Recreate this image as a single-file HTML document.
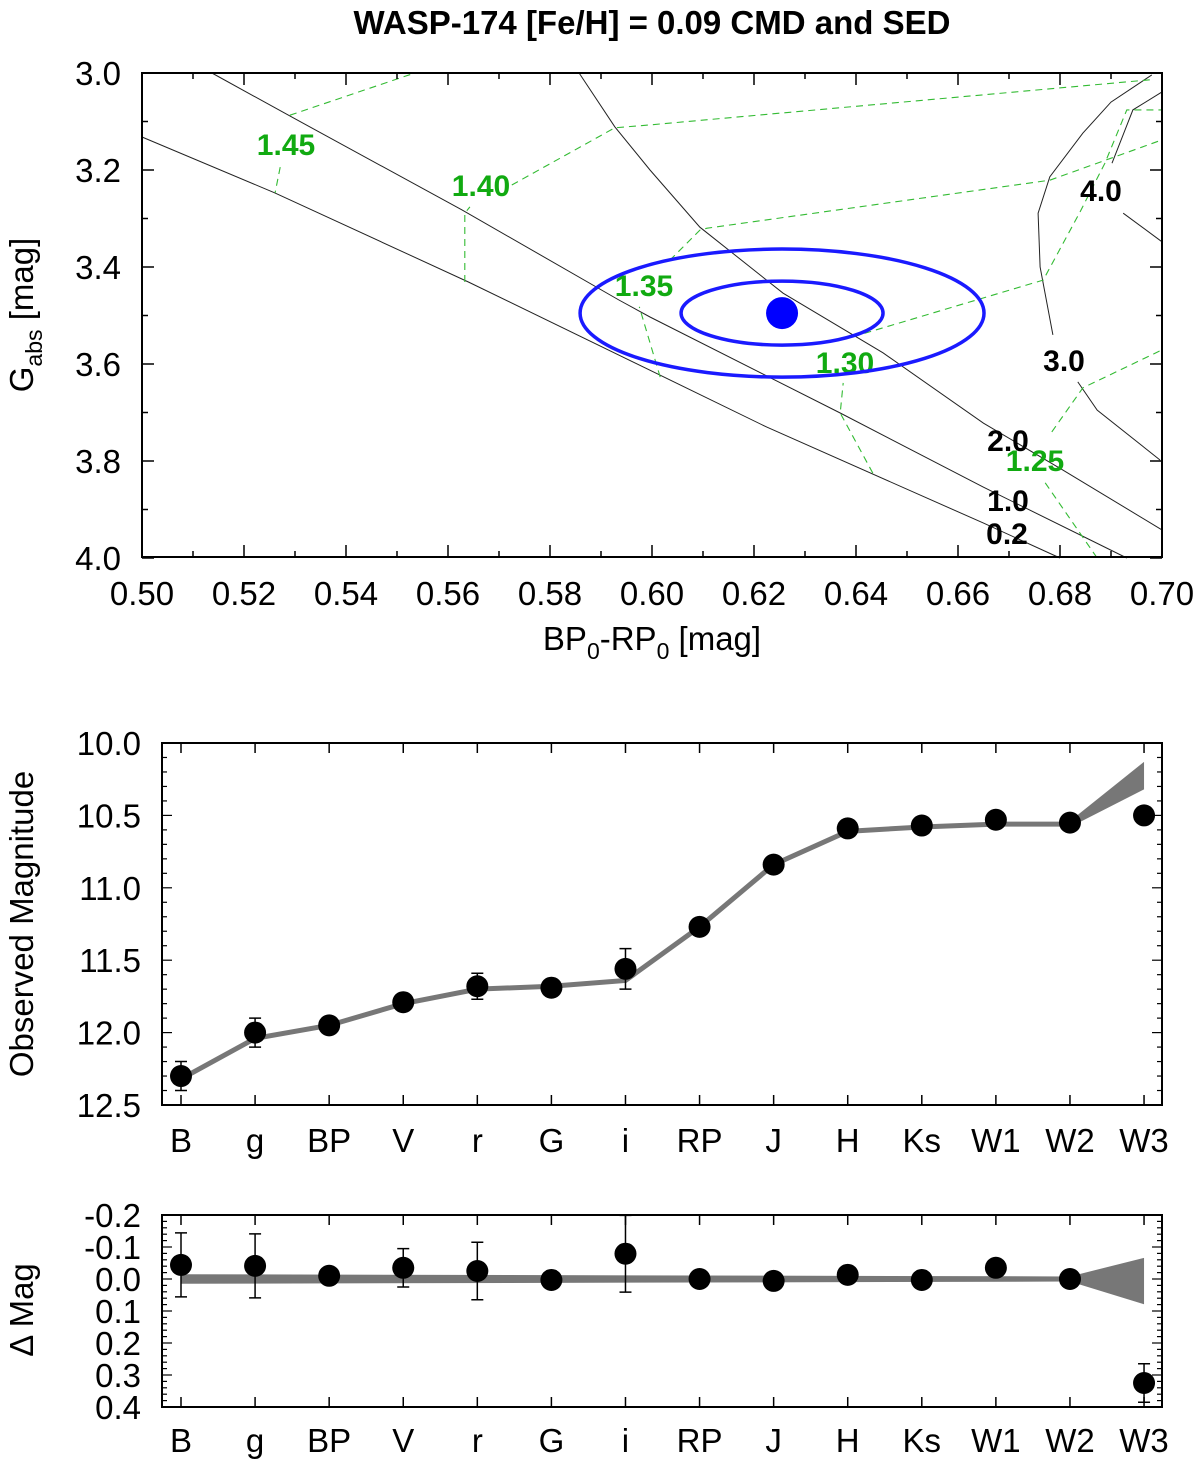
<!DOCTYPE html>
<html><head><meta charset="utf-8"><style>
body{margin:0;background:#fff;width:1200px;height:1460px;overflow:hidden}
svg{display:block;font-family:"Liberation Sans",Arial,sans-serif}
</style></head><body>
<svg id="s" width="1200" height="1460" viewBox="0 0 1200 1460">
<text x="652" y="34" font-size="33" font-weight="bold" text-anchor="middle">WASP-174 [Fe/H] = 0.09 CMD and SED</text>
<g id="cmd"></g>
<g id="sed"></g>
<g id="res"></g>
</svg>
<script>
// ---- CMD data ----
const cmdXTicks=["0.50","0.52","0.54","0.56","0.58","0.60","0.62","0.64","0.66","0.68","0.70"];
const cmdYTicks=["3.0","3.2","3.4","3.6","3.8","4.0"];
const iso02=[[0.5,3.132],[0.526,3.247],[0.564,3.431],[0.6016,3.623],[0.6225,3.730],[0.665,3.928],[0.680,4.0]];
const iso10=[[0.5137,3.0],[0.5294,3.091],[0.5627,3.282],[0.5935,3.468],[0.5996,3.503],[0.6369,3.701],[0.665,3.854],[0.6931,4.0]];
const iso20=[[0.5857,3.0],[0.5927,3.111],[0.5996,3.2],[0.6094,3.318],[0.6257,3.454],[0.6453,3.577],[0.665,3.722],[0.6806,3.819],[0.7,3.942]];
const iso30a=[[0.698,3.004],[0.690,3.06],[0.6845,3.124],[0.678,3.214],[0.6757,3.289],[0.6761,3.4],[0.6786,3.540]];
const iso30b=[[0.6835,3.637],[0.6873,3.695],[0.6996,3.798]];
const iso40a=[[0.7,3.039],[0.6943,3.076],[0.6902,3.186]];
const iso40b=[[0.6924,3.289],[0.7,3.348]];
const m145a=[[0.529,3.087],[0.5535,3.0]];
const m145b=[[0.5271,3.194],[0.5261,3.247]];
const m140a=[[0.5633,3.431],[0.5633,3.289],[0.5643,3.276]];
const m140b=[[0.5725,3.231],[0.5927,3.113],[0.5996,3.107],[0.6976,3.014]];
const m135a=[[0.6016,3.627],[0.5975,3.482]];
const m135b=[[0.6035,3.386],[0.6094,3.324],[0.6108,3.320],[0.678,3.221],[0.7,3.138]];
const m130a=[[0.6433,3.825],[0.6369,3.701],[0.6375,3.639]];
const m130b=[[0.6394,3.544],[0.6767,3.427],[0.6839,3.287],[0.6888,3.186],[0.6931,3.076],[0.7,3.076]];
const m125a=[[0.6771,3.845],[0.6873,4.0]];
const m125b=[[0.6784,3.740],[0.6845,3.649],[0.7,3.571]];
const starColor=[0.6255], starMag=[3.495], sigColor=[0.0198], sigMag=[0.066];
// ---- SED data ----
const bands=["B","g","BP","V","r","G","i","RP","J","H","Ks","W1","W2","W3"];
const obsMag=[12.30,12.00,11.95,11.79,11.68,11.69,11.56,11.27,10.84,10.59,10.57,10.53,10.55,10.50];
const obsErr=[0.1,0.1,0,0,0.09,0,0.14,0,0,0,0,0,0,0];
const modelMag=[12.32,12.04,11.95,11.80,11.70,11.68,11.64,11.27,10.84,10.61,10.58,10.56,10.56,10.23];
const modelW3Range=[10.13,10.32];
const sedYTicks=["10.0","10.5","11.0","11.5","12.0","12.5"];
const resid=[-0.044,-0.041,-0.01,-0.035,-0.025,0.003,-0.079,0,0.006,-0.013,0.003,-0.035,0,0.325];
const residErr=[0.1,0.1,0,0.06,0.09,0,0.12,0,0,0,0,0,0,0.06];
const residW3Range=[-0.066,0.079];
const resYTicks=["-0.2","-0.1","0.0","0.1","0.2","0.3","0.4"];

const NS="http://www.w3.org/2000/svg";
function el(p,t,a,txt){const e=document.createElementNS(NS,t);for(const k in a)e.setAttribute(k,a[k]);if(txt!==undefined)e.textContent=txt;p.appendChild(e);return e;}
const FS=33;
// CMD
const cmd=document.getElementById('cmd');
const cx=v=>142+(v-0.5)/0.2*1020, cy=v=>73+(v-3.0)*485;
function poly(pts){return pts.map(p=>cx(p[0]).toFixed(1)+","+cy(p[1]).toFixed(1)).join(" ");}
[iso02,iso10,iso20,iso30a,iso30b,iso40a,iso40b].forEach(a=>{
 const l=el(cmd,'polyline',{points:poly(a),fill:'none',stroke:'#222','stroke-width':1});
 
 
});
[m145a,m145b,m140a,m140b,m135a,m135b,m130a,m130b,m125a,m125b].forEach(a=>{
 const l=el(cmd,'polyline',{points:poly(a),fill:'none',stroke:'#33bb33','stroke-width':1.1,'stroke-dasharray':'7,5'});
 
 
});
[[1.45,286,155],[1.40,481,196],[1.35,644,296],[1.30,845,373],[1.25,1035,471]].forEach(d=>{
 const t=el(cmd,'text',{x:d[1],y:d[2],'font-size':30,'font-weight':'bold',fill:'#11aa11','text-anchor':'middle'},d[0].toFixed(2));
 
 
});
[["4.0",1101,201],["3.0",1064,371],["2.0",1008,451],["1.0",1008,511],["0.2",1007,544]].forEach(d=>{
 const t=el(cmd,'text',{x:d[1],y:d[2],'font-size':30,'font-weight':'bold',fill:'#000','text-anchor':'middle'},d[0]);
 
 
});
[1,2].forEach(k=>{
 const e=el(cmd,'ellipse',{cx:cx(starColor[0]),cy:cy(starMag[0]),rx:cx(0.5+sigColor[0]*k)-142,ry:sigMag[0]*k*485,fill:'none',stroke:'#1a1aff','stroke-width':3.5});
 
 
});
const star=el(cmd,'circle',{cx:cx(starColor[0]),cy:cy(starMag[0]),r:16,fill:'#0000ff'});


const fr=el(cmd,'rect',{x:142,y:73,width:1020,height:484,fill:'none',stroke:'#000','stroke-width':2});


for(let i=0;i<=20;i++){const x=142+i*51,len=i%2?6:12;
 el(cmd,'line',{x1:x,y1:557,x2:x,y2:557-len,stroke:'#000','stroke-width':1.5});
 el(cmd,'line',{x1:x,y1:73,x2:x,y2:73+len,stroke:'#000','stroke-width':1.5});}
for(let i=0;i<=10;i++){const y=73+i*48.5,len=i%2?6:12;
 el(cmd,'line',{x1:142,y1:y,x2:142+len,y2:y,stroke:'#000','stroke-width':1.5});
 el(cmd,'line',{x1:1162,y1:y,x2:1162-len,y2:y,stroke:'#000','stroke-width':1.5});}
cmdXTicks.forEach((t,i)=>{const e=el(cmd,'text',{x:142+i*102,y:605,'font-size':FS,'text-anchor':'middle'},t);
 
 });
cmdYTicks.forEach((t,i)=>{const e=el(cmd,'text',{x:121,y:85+i*97,'font-size':FS,'text-anchor':'end'},t);
 
 });
const xt=el(cmd,'text',{x:652,y:650,'font-size':FS,'text-anchor':'middle'});
xt.innerHTML='BP<tspan font-size="23" dy="9">0</tspan><tspan dy="-9">-RP</tspan><tspan font-size="23" dy="9">0</tspan><tspan dy="-9"> [mag]</tspan>';


const yt=el(cmd,'text',{x:0,y:0,'font-size':FS,'text-anchor':'middle',transform:'translate(33,315) rotate(-90)'});
yt.innerHTML='G<tspan font-size="23" dy="9">abs</tspan><tspan dy="-9"> [mag]</tspan>';



// shared band axis
const bx=i=>181+i*74.08;
function bandAxis(g,top,bot,labY){
 const f=el(g,'rect',{x:162,y:top,width:1000,height:bot-top,fill:'none',stroke:'#000','stroke-width':2});
 
 
 bands.forEach((b,i)=>{
  el(g,'line',{x1:bx(i),y1:bot,x2:bx(i),y2:bot-10,stroke:'#000','stroke-width':1.5});
  el(g,'line',{x1:bx(i),y1:top,x2:bx(i),y2:top+10,stroke:'#000','stroke-width':1.5});
  const t=el(g,'text',{x:bx(i),y:labY,'font-size':FS,'text-anchor':'middle'},b);
  
  
 });
}
// SED
const sed=document.getElementById('sed');
const sy=v=>743+(v-10)*144.8;
bandAxis(sed,743,1105,1152);
for(let i=0;i<=25;i++){const y=743+i*14.48,len=i%5?5:10;
 el(sed,'line',{x1:162,y1:y,x2:162+len,y2:y,stroke:'#000','stroke-width':1.2});
 el(sed,'line',{x1:1162,y1:y,x2:1162-len,y2:y,stroke:'#000','stroke-width':1.2});}
sedYTicks.forEach((t,i)=>{const e=el(sed,'text',{x:141,y:755+i*72.4,'font-size':FS,'text-anchor':'end'},t);
 
 });
const fan=el(sed,'polygon',{points:`${bx(12)},${sy(modelMag[12])-3} ${bx(13)},${sy(modelW3Range[0])} ${bx(13)},${sy(modelW3Range[1])} ${bx(12)},${sy(modelMag[12])+3}`,fill:'#777'});


const ml=el(sed,'polyline',{points:modelMag.slice(0,13).map((m,i)=>bx(i)+","+sy(m)).join(" "),fill:'none',stroke:'#777','stroke-width':5});


obsMag.forEach((m,i)=>{
 if(obsErr[i]>0){const e=obsErr[i]*144.8;
  el(sed,'path',{d:`M${bx(i)},${sy(m)-e}V${sy(m)+e}M${bx(i)-6},${sy(m)-e}h12M${bx(i)-6},${sy(m)+e}h12`,stroke:'#000','stroke-width':1.5,fill:'none'});}
 const c=el(sed,'circle',{cx:bx(i),cy:sy(m),r:11,fill:'#000'});
 
 
});
const st=el(sed,'text',{x:0,y:0,'font-size':FS,'text-anchor':'middle',transform:'translate(33,924) rotate(-90)'},'Observed Magnitude');



// Residuals
const res=document.getElementById('res');
const ry=v=>1279+v*320;
bandAxis(res,1215,1407,1452);
for(let i=0;i<=30;i++){const y=1215+i*6.4,len=i%5?5:10;
 el(res,'line',{x1:162,y1:y,x2:162+len,y2:y,stroke:'#000','stroke-width':1.2});
 el(res,'line',{x1:1162,y1:y,x2:1162-len,y2:y,stroke:'#000','stroke-width':1.2});}
resYTicks.forEach((t,i)=>{const e=el(res,'text',{x:141,y:1227+i*32,'font-size':FS,'text-anchor':'end'},t);
 
 });
const rband=el(res,'polygon',{points:`${bx(0)},${ry(-0.015)} ${bx(12)},${ry(-0.008)} ${bx(13)},${ry(residW3Range[0])} ${bx(13)},${ry(residW3Range[1])} ${bx(12)},${ry(0.008)} ${bx(0)},${ry(0.015)}`,fill:'#777'});


resid.forEach((r,i)=>{
 if(residErr[i]>0){const e=residErr[i]*320;
  el(res,'path',{d:`M${bx(i)},${ry(r)-e}V${ry(r)+e}M${bx(i)-6},${ry(r)-e}h12M${bx(i)-6},${ry(r)+e}h12`,stroke:'#000','stroke-width':1.5,fill:'none'});}
 const c=el(res,'circle',{cx:bx(i),cy:ry(r),r:11,fill:'#000'});
 
 
});
const rt=el(res,'text',{x:0,y:0,'font-size':FS,'text-anchor':'middle',transform:'translate(33,1310) rotate(-90)'},'Δ Mag');


</script>
</body></html>
